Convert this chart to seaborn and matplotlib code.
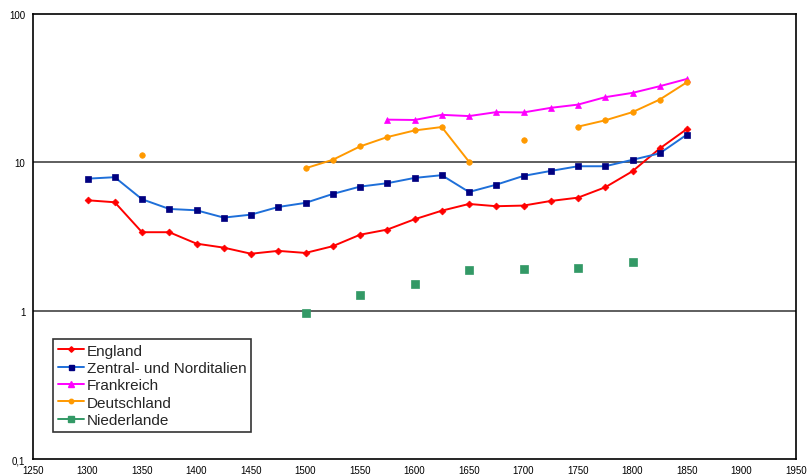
import numpy as np
import pandas as pd
import matplotlib
matplotlib.use("Agg")
import matplotlib.pyplot as plt
from matplotlib.lines import Line2D
from matplotlib.ticker import FixedLocator, NullLocator
import seaborn as sns

# Years (x positions) shared by every series
years = [1300, 1325, 1350, 1375, 1400, 1425, 1450, 1475, 1500, 1525, 1550,
         1575, 1600, 1625, 1650, 1675, 1700, 1725, 1750, 1775, 1800, 1825, 1850]
nan = np.nan

england = [5.55, 5.38, 3.38, 3.38, 2.83, 2.66, 2.42, 2.53, 2.45, 2.72, 3.25,
           3.52, 4.13, 4.72, 5.24, 5.06, 5.11, 5.49, 5.78, 6.79, 8.71, 12.4, 16.8]
italien = [7.76, 7.94, 5.64, 4.85, 4.75, 4.24, 4.44, 5.00, 5.33, 6.12, 6.86,
           7.23, 7.85, 8.19, 6.31, 7.07, 8.10, 8.75, 9.41, 9.41, 10.4, 11.5, 15.4]
frankreich = [nan, nan, nan, nan, nan, nan, nan, nan, nan, nan, nan,
              19.4, 19.3, 20.9, 20.5, 21.8, 21.7, 23.3, 24.5, 27.5, 29.4, 32.6, 36.5]
deutschland = [nan, nan, 11.2, nan, nan, nan, nan, nan, 9.12, 10.4, 12.8,
               14.8, 16.4, 17.3, 10.1, nan, 14.2, nan, 17.4, 19.2, 21.8, 26.5, 34.7]
niederlande = [nan, nan, nan, nan, nan, nan, nan, nan, 0.96, nan, 1.27,
               nan, 1.52, nan, 1.89, nan, 1.91, nan, 1.95, nan, 2.13, nan, nan]

labels = ["England", "Zentral- und Norditalien", "Frankreich",
          "Deutschland", "Niederlande"]
y_ticks = [0.1, 1, 10, 100]
y_tick_labels = ["0,1", "1", "10", "100"]
x_ticks = list(range(1250, 1951, 50))

# series name -> (values, line colour, marker, marker colour, marker size, draw line)
styles = {
    "England": (england, "#FF0000", "D", "#FF0000", 3.5, True),
    "Zentral- und Norditalien": (italien, "#1E6FD9", "s", "#000080", 4.5, True),
    "Frankreich": (frankreich, "#FF00FF", "^", "#FF00FF", 5, True),
    "Deutschland": (deutschland, "#FF9900", "o", "#FF9900", 4, True),
    "Niederlande": (niederlande, "#339966", "s", "#339966", 5.2, False),
}

sns.set_style("white")
plt.rcParams["font.family"] = ["Liberation Sans", "DejaVu Sans"]

fig = plt.figure(figsize=(8.08, 4.77), dpi=100)
ax = fig.add_axes([33 / 808, 1 - 460 / 477, (796 - 33) / 808, (460 - 15) / 477])

handles = []
for name in labels:
    vals, lc, mk, mc, ms, draw_line = styles[name]
    df = pd.DataFrame({"year": years, "value": vals})
    # contiguous runs of data become separate line segments
    df["seg"] = df["value"].isna().cumsum()
    df = df.dropna()
    for _, seg in df.groupby("seg"):
        sns.lineplot(data=seg, x="year", y="value", ax=ax,
                     color=lc, linewidth=1.4 if draw_line else 0,
                     marker=mk, markersize=ms, markerfacecolor=mc,
                     markeredgecolor=mc, markeredgewidth=0.5,
                     estimator=None, legend=False, zorder=3)
    handles.append(Line2D([0], [0], color=lc, linewidth=1.4, marker=mk,
                          markersize=min(ms * 0.8, 4.5), markerfacecolor=mc,
                          markeredgecolor=mc, label=name))

ax.set_yscale("log")
ax.set_xlim(1250, 1950)
ax.set_ylim(0.1, 100)
ax.yaxis.set_major_locator(FixedLocator(y_ticks))
ax.yaxis.set_minor_locator(NullLocator())
ax.set_yticklabels(y_tick_labels)
ax.set_xticks(x_ticks)
ax.set_xticklabels([str(t) for t in x_ticks])
ax.set_xlabel("")
ax.set_ylabel("")

for v in [1, 10]:
    ax.axhline(v, color="#333333", linewidth=1.1, zorder=1)

for side in ["left", "right", "top", "bottom"]:
    ax.spines[side].set_color("black")
    ax.spines[side].set_linewidth(1.2)
    ax.spines[side].set_visible(True)

ax.tick_params(axis="y", which="major", direction="inout", length=7,
               width=0.8, labelsize=7, pad=2, colors="black")
ax.tick_params(axis="x", which="major", direction="out", length=3,
               width=0.8, labelsize=7, pad=1, colors="black")

leg = ax.legend(handles=handles, loc="upper left",
                bbox_to_anchor=((53 - 33) / 763, 1 - (340 - 15) / 445),
                frameon=True, fancybox=False, fontsize=11, handlelength=1.7,
                handletextpad=0.2, borderpad=0.3, labelspacing=0.22,
                borderaxespad=0)
leg.get_frame().set_edgecolor("black")
leg.get_frame().set_linewidth(1.2)

fig.savefig("out.png", dpi=100)
